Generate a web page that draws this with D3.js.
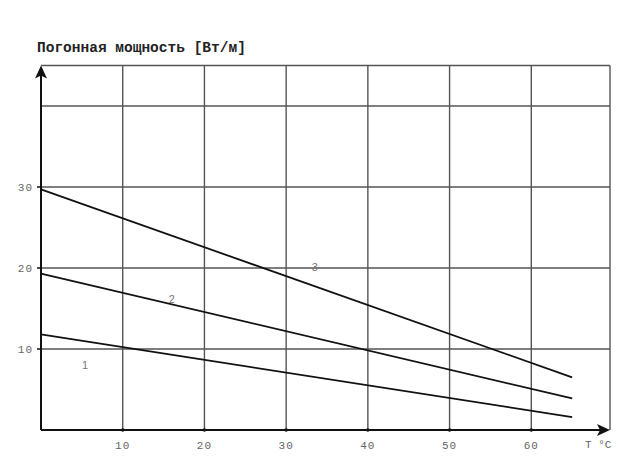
<!DOCTYPE html>
<html><head><meta charset="utf-8">
<script src="https://cdn.jsdelivr.net/npm/d3@7"></script>
<style>html,body{margin:0;padding:0;background:#fff;}svg{display:block;}</style>
</head><body>
<svg id="c" width="640" height="463"></svg>
<script>
const temps = [0, 65];
const line1 = [11.8, 1.6];
const line2 = [19.3, 3.9];
const line3 = [29.7, 6.5];
const lineNames = ["1", "2", "3"];
const labelPos = [[5.4, 8.0], [16, 16.2], [33.5, 20.1]];
const xTicks = [10, 20, 30, 40, 50, 60];
const yTicks = [10, 20, 30];
const yGrid = [10, 20, 30, 40];
const title = "Погонная мощность [Вт/м]";
const xUnit = "T °C";

(function () {
const svg = d3.select("#c");
const x = d3.scaleLinear().domain([0, 70]).range([41, 613]);
const y = d3.scaleLinear().domain([0, 45]).range([430, 65.5]);
const right = 610, frameTop = y(45);

const grid = svg.append("g").attr("stroke", "#555").attr("stroke-width", 1.4);
xTicks.forEach(t => grid.append("line").attr("x1", x(t)).attr("x2", x(t)).attr("y1", frameTop).attr("y2", y(0)));
grid.append("line").attr("x1", right).attr("x2", right).attr("y1", frameTop).attr("y2", y(0));
yGrid.forEach(t => grid.append("line").attr("x1", x(0)).attr("x2", right).attr("y1", y(t)).attr("y2", y(t)));
grid.append("line").attr("x1", x(0)).attr("x2", right).attr("y1", frameTop).attr("y2", frameTop);

const ax = svg.append("g");
ax.append("line").attr("x1", x(0)).attr("x2", right - 8).attr("y1", y(0)).attr("y2", y(0)).attr("stroke", "#111").attr("stroke-width", 2);
ax.append("path").attr("d", `M${right},${y(0)} L${right-13},${y(0)-6} L${right-10},${y(0)} L${right-13},${y(0)+6}Z`).attr("fill", "#111");
ax.append("line").attr("x1", x(0)).attr("x2", x(0)).attr("y1", y(0)).attr("y2", frameTop + 8).attr("stroke", "#111").attr("stroke-width", 2);
ax.append("path").attr("d", `M${x(0)},${frameTop} L${x(0)-6},${frameTop+13} L${x(0)},${frameTop+10} L${x(0)+6},${frameTop+13}Z`).attr("fill", "#111");

xTicks.forEach(t => {
  ax.append("circle").attr("cx", x(t)).attr("cy", y(0)).attr("r", 1.8).attr("fill", "#111");
  ax.append("text").attr("x", x(t)).attr("y", y(0) + 19).attr("text-anchor", "middle")
    .attr("font-family", "Liberation Mono, monospace").attr("font-size", 11).attr("letter-spacing", 1)
    .attr("fill", "#666").text(t);
});
yTicks.forEach(t => {
  ax.append("line").attr("x1", x(0) - 4).attr("x2", x(0)).attr("y1", y(t)).attr("y2", y(t)).attr("stroke", "#111").attr("stroke-width", 1.5);
  ax.append("text").attr("x", x(0) - 8).attr("y", y(t) + 4).attr("text-anchor", "end")
    .attr("font-family", "Liberation Mono, monospace").attr("font-size", 11).attr("letter-spacing", 1)
    .attr("fill", "#666").text(t);
});

const lg = d3.line().x((d, i) => x(temps[i])).y(d => y(d));
[line1, line2, line3].forEach(s => {
  svg.append("path").attr("d", lg(s)).attr("fill", "none").attr("stroke", "#111").attr("stroke-width", 1.8);
});
lineNames.forEach((n, i) => {
  svg.append("text").attr("x", x(labelPos[i][0])).attr("y", y(labelPos[i][1]) + 4).attr("text-anchor", "middle")
    .attr("font-family", "Liberation Sans, sans-serif").attr("font-size", 11).attr("fill", "#777").text(n);
});

svg.append("text").attr("x", 37).attr("y", 52).attr("font-family", "Liberation Mono, monospace")
  .attr("font-weight", "bold").attr("font-size", 14.5).attr("fill", "#222").text(title);
svg.append("text").attr("x", 585).attr("y", 448).attr("font-family", "Liberation Mono, monospace")
  .attr("font-size", 11).attr("fill", "#666").text(xUnit);
})();
</script>
</body></html>
